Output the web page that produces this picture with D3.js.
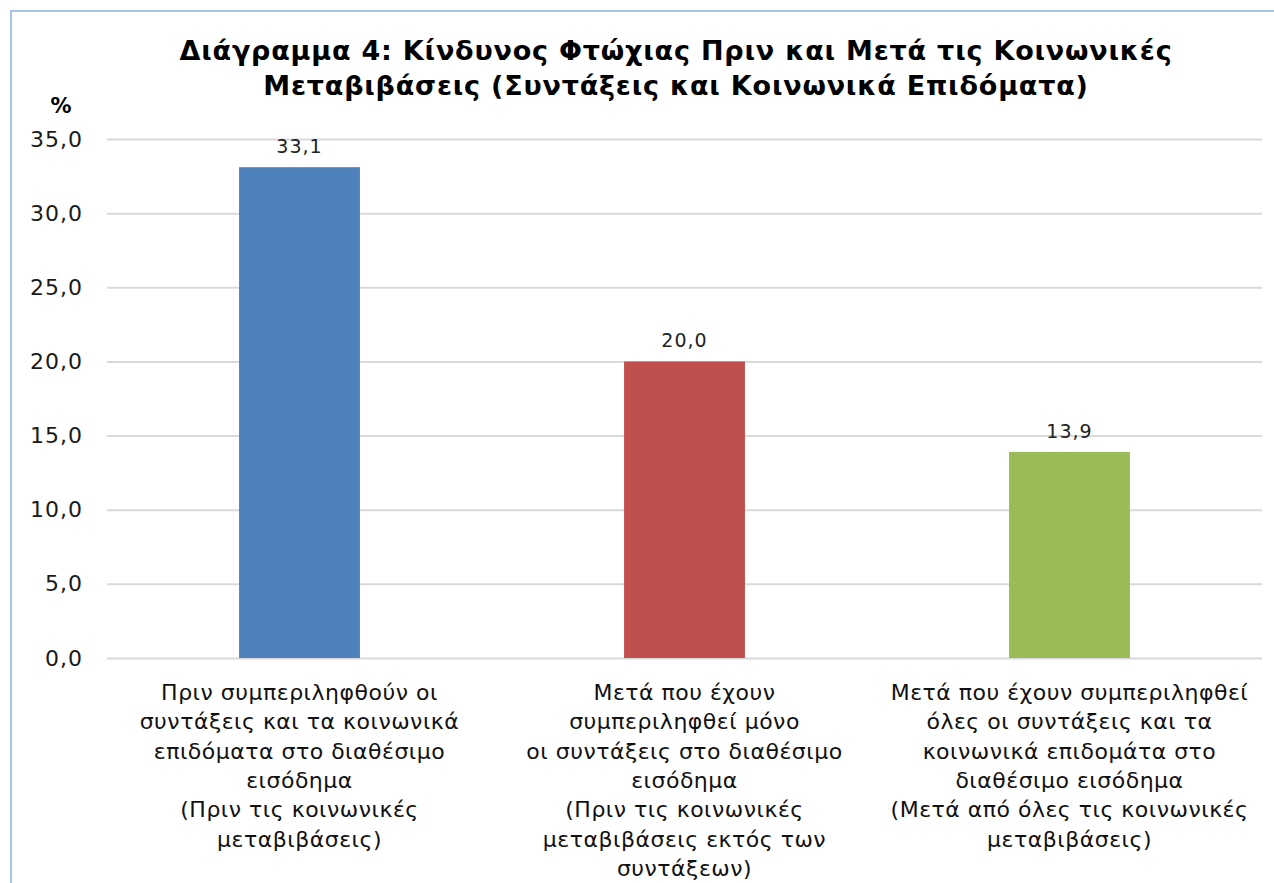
<!DOCTYPE html>
<html>
<head>
<meta charset="utf-8">
<script src="https://cdn.jsdelivr.net/npm/d3@7"></script>
<style>
  body { margin: 0; background: #fff; }
  svg { display: block; }
</style>
</head>
<body>
<svg id="chart" width="1274" height="883"></svg>
<script>
// データ
var titleLines = [
  "Διάγραμμα 4: Κίνδυνος Φτώχιας Πριν και Μετά τις Κοινωνικές",
  "Μεταβιβάσεις (Συντάξεις και Κοινωνικά Επιδόματα)"
];
var categories = [
  ["Πριν συμπεριληφθούν οι", "συντάξεις και τα κοινωνικά", "επιδόματα στο διαθέσιμο", "εισόδημα", "(Πριν τις κοινωνικές", "μεταβιβάσεις)"],
  ["Μετά που έχουν", "συμπεριληφθεί μόνο", "οι συντάξεις στο διαθέσιμο", "εισόδημα", "(Πριν τις κοινωνικές", "μεταβιβάσεις εκτός των", "συντάξεων)"],
  ["Μετά που έχουν συμπεριληφθεί", "όλες οι συντάξεις και τα", "κοινωνικά επιδομάτα στο", "διαθέσιμο εισόδημα", "(Μετά από όλες τις κοινωνικές", "μεταβιβάσεις)"]
];
var values = [33.1, 20.0, 13.9];
var colors = ["#4f81bd", "#c0504d", "#9bbb59"];
var yTicks = [0, 5, 10, 15, 20, 25, 30, 35];

var svg = d3.select("#chart");
var fmt = (v) => d3.format(".1f")(v).replace(".", ",");

// 枠
svg.append("rect")
  .attr("x", 11).attr("y", 11)
  .attr("width", 1300).attr("height", 900)
  .attr("fill", "none")
  .attr("stroke", "#a9c4eb")
  .attr("stroke-width", 2);

// タイトル
svg.append("g")
  .selectAll("text")
  .data(titleLines)
  .enter()
  .append("text")
  .attr("x", 676)
  .attr("y", (d, i) => 60 + i * 35)
  .attr("text-anchor", "middle")
  .attr("font-family", "'DejaVu Sans', Verdana, sans-serif")
  .attr("font-weight", "bold")
  .attr("font-size", 27)
  .attr("letter-spacing", 0.8)
  .attr("fill", "#000")
  .text((d) => d);

svg.append("text")
  .attr("x", 61).attr("y", 113)
  .attr("text-anchor", "middle")
  .attr("font-family", "'DejaVu Sans', Verdana, sans-serif")
  .attr("font-weight", "bold")
  .attr("font-size", 21)
  .text("%");

// スケール
var x = d3.scaleBand()
  .domain(d3.range(values.length))
  .range([107, 1262])
  .paddingInner(0.686)
  .paddingOuter(0.343);
var y = d3.scaleLinear().domain([0, 35]).range([658, 139]);

// グリッド線と目盛り
var yAxis = d3.axisLeft(y)
  .tickValues(yTicks)
  .tickFormat(fmt)
  .tickSize(-(1262 - 107))
  .tickPadding(24);
var gy = svg.append("g")
  .attr("transform", "translate(107,0)")
  .call(yAxis);
gy.select(".domain").remove();
gy.selectAll(".tick line")
  .attr("stroke", "#d9d9d9")
  .attr("stroke-width", 2);
gy.selectAll(".tick text")
  .attr("font-family", "'DejaVu Sans', Verdana, sans-serif")
  .attr("font-size", 22)
  .attr("letter-spacing", 1)
  .attr("fill", "#1a1a1a");

// 棒
svg.append("g")
  .selectAll("rect")
  .data(values)
  .enter()
  .append("rect")
  .attr("x", (d, i) => x(i))
  .attr("y", (d) => y(d))
  .attr("width", x.bandwidth())
  .attr("height", (d) => y(0) - y(d))
  .attr("fill", (d, i) => colors[i]);

// 値ラベル
svg.append("g")
  .selectAll("text")
  .data(values)
  .enter()
  .append("text")
  .attr("x", (d, i) => x(i) + x.bandwidth() / 2)
  .attr("y", (d) => y(d) - 14)
  .attr("text-anchor", "middle")
  .attr("font-family", "'DejaVu Sans', Verdana, sans-serif")
  .attr("font-size", 19)
  .attr("letter-spacing", 1)
  .attr("fill", "#222")
  .text(fmt);

// カテゴリラベル
var catG = svg.append("g")
  .selectAll("text")
  .data(categories)
  .enter()
  .append("text")
  .attr("text-anchor", "middle")
  .attr("font-family", "'DejaVu Sans', Tahoma, sans-serif")
  .attr("font-size", 22)
  .attr("letter-spacing", 0.5)
  .attr("fill", "#111");
catG.selectAll("tspan")
  .data((d, i) => d.map((t) => ({ t: t, i: i })))
  .enter()
  .append("tspan")
  .attr("x", (d) => x(d.i) + x.bandwidth() / 2)
  .attr("y", (d, j) => 700 + j * 29.3)
  .text((d) => d.t);
</script>
</body>
</html>
